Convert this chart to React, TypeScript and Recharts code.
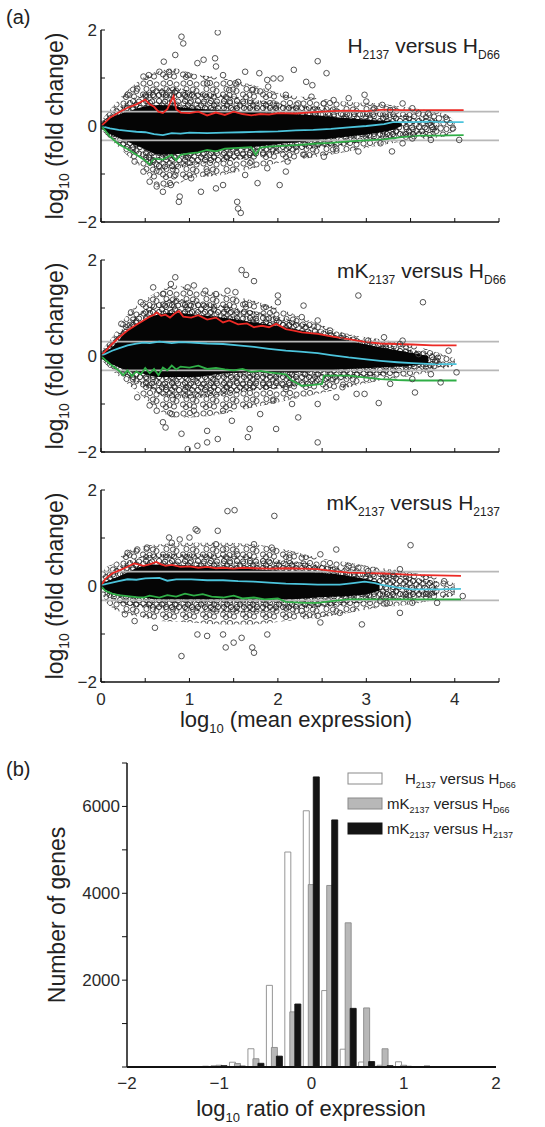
import React from 'react';
import {
  ComposedChart,
  Area,
  Line,
  Scatter,
  XAxis,
  YAxis,
  BarChart,
  Bar,
} from 'recharts';

const FONT = '"Liberation Sans", Arial, Helvetica, sans-serif';

// ---------- panel (a): MA plots ----------
const maTicksX = [0, 0.5, 1, 1.5, 2, 2.5, 3, 3.5, 4, 4.5];
const maTicksY = [-2, -1, 0, 1, 2];
const foldLimit = 0.3;
const foldLineX = [0, 4.5];

// outline of the point cloud: [mean, low, high]
const core1 = [
  [0, -0.05, 0.05], [0.1, -0.16, 0.16], [0.3, -0.33, 0.3], [0.48, -0.47, 0.4], [0.66, -0.6, 0.44],
  [1.0, -0.57, 0.37], [1.37, -0.5, 0.33], [1.73, -0.43, 0.3], [2.09, -0.36, 0.26], [2.45, -0.29, 0.22],
  [2.8, -0.22, 0.16], [3.1, -0.15, 0.12], [3.3, -0.08, 0.1], [3.4, 0, 0.04],
];
const dense1 = [
  [0, -0.06, 0.07], [0.25, -0.42, 0.45], [0.5, -0.72, 0.7], [0.66, -0.92, 0.78], [0.84, -0.9, 0.8],
  [1.02, -0.82, 0.72], [1.37, -0.75, 0.65], [1.73, -0.65, 0.55], [2.09, -0.55, 0.45], [2.45, -0.46, 0.4],
  [2.8, -0.38, 0.33], [3.16, -0.28, 0.28], [3.52, -0.2, 0.2], [3.8, -0.12, 0.15],
];
const halo1 = [
  [0, -0.08, 0.1], [0.25, -0.53, 0.65], [0.5, -0.95, 1.03], [0.66, -1.3, 1.15], [0.84, -1.23, 1.2],
  [1.02, -1.09, 1.1], [1.37, -1.02, 1.0], [1.73, -0.88, 0.85], [2.09, -0.74, 0.65], [2.45, -0.64, 0.58],
  [2.8, -0.53, 0.5], [3.16, -0.4, 0.47], [3.52, -0.29, 0.37], [3.88, -0.22, 0.26], [4.0, -0.1, 0.1],
];
const upper1 = [
  [0, 0], [0.05, 0.08], [0.1, 0.17], [0.2, 0.28], [0.3, 0.38], [0.4, 0.45], [0.45, 0.5], [0.5, 0.55],
  [0.55, 0.45], [0.6, 0.4], [0.65, 0.3], [0.7, 0.27], [0.75, 0.35], [0.8, 0.55], [0.82, 0.62], [0.85, 0.35],
  [0.9, 0.28], [1.0, 0.27], [1.1, 0.3], [1.2, 0.22], [1.3, 0.28], [1.4, 0.23], [1.5, 0.3], [1.6, 0.25],
  [1.7, 0.22], [1.8, 0.25], [1.9, 0.24], [2.0, 0.27], [2.2, 0.26], [2.4, 0.29], [2.6, 0.31], [2.8, 0.32],
  [3.0, 0.31], [3.2, 0.34], [3.4, 0.33], [3.6, 0.33], [3.8, 0.33], [4.1, 0.33],
];
const mid1 = [
  [0, 0], [0.1, -0.05], [0.2, -0.08], [0.3, -0.1], [0.4, -0.12], [0.5, -0.13], [0.6, -0.17], [0.7, -0.19],
  [0.8, -0.15], [0.9, -0.16], [1.0, -0.14], [1.2, -0.15], [1.4, -0.14], [1.6, -0.13], [1.8, -0.12],
  [2.0, -0.11], [2.2, -0.09], [2.4, -0.08], [2.6, -0.06], [2.8, -0.03], [3.0, 0], [3.2, 0.04], [3.3, 0.08],
  [3.5, 0.08], [3.7, 0.09], [3.9, 0.08], [4.1, 0.08],
];
const lower1 = [
  [0, 0], [0.05, -0.1], [0.1, -0.22], [0.2, -0.38], [0.3, -0.48], [0.4, -0.6], [0.5, -0.72], [0.55, -0.8],
  [0.6, -0.68], [0.7, -0.7], [0.8, -0.6], [0.85, -0.72], [0.9, -0.6], [1.0, -0.57], [1.1, -0.55], [1.2, -0.5],
  [1.3, -0.53], [1.4, -0.47], [1.5, -0.46], [1.6, -0.45], [1.7, -0.44], [1.75, -0.6], [1.8, -0.45],
  [1.9, -0.43], [2.0, -0.42], [2.2, -0.4], [2.4, -0.37], [2.6, -0.35], [2.8, -0.32], [3.0, -0.3],
  [3.2, -0.28], [3.4, -0.23], [3.6, -0.2], [3.8, -0.2], [4.1, -0.19],
];
const outliers1 = [
  [0.91, 1.86], [0.93, 1.72], [1.32, 1.95], [0.71, 1.34], [0.84, 1.48], [1.09, 1.31], [1.16, 1.38],
  [1.29, 1.41], [1.3, 1.24], [1.38, 1.06], [1.52, 0.89], [1.63, 1.13], [1.79, 1.1], [1.88, 0.96],
  [1.95, 0.99], [2.03, 0.99], [2.18, 1.17], [2.45, 1.35], [2.55, 1.1], [2.32, 0.92], [2.39, 0.85],
  [2.09, 0.65], [2.38, 0.61], [2.8, 0.58], [2.98, 0.65], [3.0, 0.51], [3.18, 0.44], [3.41, 0.47],
  [3.7, 0.26], [3.82, 0.16], [3.91, 0.13], [3.98, -0.05], [4.05, -0.29], [3.29, -0.53], [3.41, -0.36],
  [3.73, -0.29], [2.91, -0.53], [2.52, -0.64], [2.11, -0.74], [2.02, -1.23], [1.77, -1.19], [1.63, -1.02],
  [1.54, -1.58], [1.55, -1.72], [1.58, -1.81], [1.38, -1.23], [1.3, -1.3], [1.13, -1.37], [0.88, -1.58],
  [0.89, -1.47], [0.7, -1.37], [0.63, -1.26], [0.55, -1.16], [0.79, -1.23], [1.02, -1.09], [0.48, -0.95],
  [0.38, -0.74], [0.48, 1.03], [0.54, 1.06], [0.41, 0.78], [0.3, 0.65], [0.66, 1.13], [0.77, 1.13],
  [0.98, 1.06], [1.55, 0.92], [1.71, 0.75], [1.8, 0.72], [1.89, 0.82], [1.2, 0.89], [1.45, 0.75],
  [1.95, 0.47], [2.23, 0.47], [2.63, 0.54], [2.52, 0.47], [3.09, 0.37], [3.27, 0.33], [3.52, 0.37],
  [3.59, 0.26], [3.73, 0.02], [3.84, -0.05], [3.52, -0.26], [3.16, -0.36], [2.66, -0.47], [2.3, -0.6],
  [1.88, -0.88], [1.7, -0.74], [2.09, -0.95], [1.2, -0.95], [0.84, -1.02], [0.66, -0.95], [0.59, -0.74],
];

const core2 = [
  [0, -0.05, 0.05], [0.125, -0.17, 0.18], [0.3, -0.3, 0.53], [0.48, -0.37, 0.74], [0.66, -0.44, 0.87],
  [0.84, -0.44, 0.9], [1.02, -0.44, 0.87], [1.37, -0.37, 0.8], [1.73, -0.34, 0.7], [2.09, -0.34, 0.6],
  [2.45, -0.31, 0.46], [2.8, -0.27, 0.32], [3.16, -0.24, 0.18], [3.52, -0.2, 0.06], [3.7, -0.16, 0.0],
];
const dense2 = [
  [0, -0.07, 0.08], [0.125, -0.24, 0.3], [0.3, -0.45, 0.7], [0.48, -0.62, 0.95], [0.66, -0.8, 1.12],
  [0.84, -0.88, 1.2], [1.02, -0.88, 1.15], [1.37, -0.82, 1.05], [1.73, -0.72, 0.93], [2.09, -0.66, 0.78],
  [2.45, -0.58, 0.58], [2.8, -0.48, 0.4], [3.16, -0.4, 0.26], [3.52, -0.32, 0.13], [3.85, -0.24, 0.02],
];
const halo2 = [
  [0, -0.08, 0.1], [0.125, -0.3, 0.39], [0.3, -0.58, 0.87], [0.48, -0.86, 1.15], [0.66, -1.14, 1.36],
  [0.84, -1.28, 1.47], [1.02, -1.28, 1.4], [1.37, -1.21, 1.29], [1.73, -1.07, 1.15], [2.09, -0.93, 0.94],
  [2.45, -0.79, 0.67], [2.8, -0.65, 0.46], [3.16, -0.51, 0.35], [3.52, -0.41, 0.22], [3.8, -0.3, 0.08],
  [4.0, -0.2, -0.05],
];
const upper2 = [
  [0, 0], [0.05, 0.1], [0.125, 0.25], [0.2, 0.38], [0.3, 0.53], [0.4, 0.65], [0.48, 0.74], [0.55, 0.82],
  [0.6, 0.86], [0.63, 0.91], [0.68, 0.84], [0.73, 0.86], [0.78, 0.8], [0.83, 0.88], [0.88, 0.94],
  [0.93, 0.82], [1.02, 0.8], [1.1, 0.85], [1.2, 0.76], [1.3, 0.8], [1.38, 0.7], [1.45, 0.74], [1.55, 0.66],
  [1.65, 0.68], [1.73, 0.6], [1.82, 0.63], [1.9, 0.6], [1.98, 0.67], [2.09, 0.56], [2.18, 0.53],
  [2.27, 0.49], [2.45, 0.46], [2.6, 0.41], [2.8, 0.35], [3.0, 0.29], [3.16, 0.26], [3.35, 0.25],
  [3.52, 0.24], [3.75, 0.22], [4.02, 0.22],
];
const mid2 = [
  [0, 0], [0.125, 0.11], [0.2, 0.16], [0.3, 0.22], [0.4, 0.26], [0.48, 0.28], [0.55, 0.27], [0.66, 0.3],
  [0.8, 0.27], [0.9, 0.29], [1.02, 0.28], [1.2, 0.26], [1.38, 0.25], [1.55, 0.22], [1.73, 0.19],
  [1.9, 0.15], [2.09, 0.11], [2.25, 0.09], [2.45, 0.06], [2.6, 0.02], [2.8, -0.03], [3.0, -0.07],
  [3.16, -0.1], [3.35, -0.13], [3.52, -0.15], [3.75, -0.17], [4.02, -0.17],
];
const lower2 = [
  [0, 0], [0.06, -0.1], [0.125, -0.2], [0.2, -0.3], [0.25, -0.4], [0.3, -0.3], [0.35, -0.42], [0.4, -0.32],
  [0.45, -0.38], [0.5, -0.25], [0.55, -0.36], [0.6, -0.27], [0.65, -0.4], [0.7, -0.24], [0.75, -0.3],
  [0.8, -0.2], [0.85, -0.28], [0.9, -0.22], [1.0, -0.24], [1.1, -0.2], [1.2, -0.27], [1.3, -0.25],
  [1.4, -0.28], [1.5, -0.3], [1.6, -0.27], [1.7, -0.33], [1.8, -0.31], [1.9, -0.34], [2.0, -0.36],
  [2.09, -0.38], [2.15, -0.5], [2.27, -0.62], [2.4, -0.6], [2.5, -0.58], [2.52, -0.41], [2.7, -0.41],
  [2.8, -0.41], [3.0, -0.45], [3.16, -0.48], [3.35, -0.5], [3.52, -0.51], [4.02, -0.51],
];
const outliers2 = [
  [1.59, 1.79], [1.64, 1.69], [1.73, 1.56], [0.84, 1.64], [0.79, 1.5], [0.59, 1.43], [1.05, 1.47],
  [1.18, 1.36], [1.43, 1.36], [1.52, 1.33], [2.0, 1.26], [2.0, 1.12], [2.29, 1.05], [2.91, 1.26],
  [3.64, 1.12], [2.45, 0.74], [2.45, 0.6], [2.59, 0.53], [3.2, 0.39], [3.41, 0.32], [3.93, 0.11],
  [4.02, -0.34], [3.84, -0.55], [3.55, -0.76], [3.14, -0.98], [2.98, -0.79], [2.89, -0.79], [2.66, -0.86],
  [2.45, -1.8], [2.16, -1.0], [2.23, -1.28], [1.98, -1.52], [1.68, -1.52], [1.66, -1.69], [1.48, -1.35],
  [1.32, -1.73], [1.2, -1.56], [1.2, -1.8], [1.09, -1.87], [0.98, -1.94], [0.91, -1.62], [0.7, -1.38],
  [0.73, -1.49], [0.8, -1.21], [0.55, -1.03], [0.41, -0.86], [0.63, -1.14], [1.05, -1.14], [1.38, -1.14],
  [1.8, -1.21], [1.95, -0.93], [2.45, -1.0], [2.09, -0.69], [2.73, -0.65], [3.27, -0.58], [3.52, -0.48],
  [3.73, -0.38], [3.8, -0.1], [3.59, 0.04], [3.38, 0.25], [3.02, 0.32], [2.73, 0.42], [2.27, 0.81],
  [1.95, 0.94], [1.84, 1.01], [1.63, 1.08], [1.3, 1.29], [0.98, 1.43], [0.7, 1.29], [0.45, 1.12],
  [0.34, 0.91], [0.23, 0.67],
];

const core3 = [
  [0, -0.04, 0.05], [0.125, -0.14, 0.14], [0.3, -0.21, 0.28], [0.48, -0.24, 0.42], [0.66, -0.28, 0.45],
  [1.02, -0.28, 0.42], [1.37, -0.28, 0.38], [1.73, -0.28, 0.35], [2.09, -0.28, 0.31], [2.45, -0.24, 0.28],
  [2.8, -0.21, 0.21], [3.0, -0.17, 0.14], [3.15, -0.1, 0.08],
];
const dense3 = [
  [0, -0.06, 0.07], [0.125, -0.28, 0.3], [0.3, -0.4, 0.5], [0.48, -0.45, 0.62], [0.66, -0.5, 0.66],
  [1.02, -0.52, 0.66], [1.37, -0.54, 0.64], [1.73, -0.54, 0.6], [2.09, -0.5, 0.53], [2.45, -0.45, 0.45],
  [2.8, -0.38, 0.36], [3.16, -0.32, 0.27], [3.52, -0.26, 0.18], [3.8, -0.2, 0.1],
];
const halo3 = [
  [0, -0.08, 0.1], [0.05, -0.31, 0.38], [0.125, -0.45, 0.45], [0.3, -0.59, 0.73], [0.48, -0.66, 0.83],
  [0.66, -0.73, 0.87], [1.02, -0.76, 0.9], [1.37, -0.8, 0.9], [1.73, -0.8, 0.87], [2.09, -0.73, 0.76],
  [2.45, -0.66, 0.59], [2.8, -0.56, 0.49], [3.16, -0.45, 0.38], [3.52, -0.38, 0.28], [3.8, -0.28, 0.17],
  [4.0, -0.2, 0.05],
];
const upper3 = [
  [0, 0], [0.05, 0.15], [0.125, 0.26], [0.2, 0.32], [0.3, 0.4], [0.375, 0.47], [0.42, 0.45], [0.48, 0.42],
  [0.55, 0.45], [0.625, 0.5], [0.68, 0.45], [0.73, 0.42], [0.8, 0.44], [0.9, 0.4], [1.0, 0.41], [1.1, 0.38],
  [1.2, 0.4], [1.3, 0.37], [1.38, 0.38], [1.5, 0.36], [1.6, 0.38], [1.73, 0.37], [1.9, 0.36], [2.09, 0.37],
  [2.3, 0.36], [2.45, 0.35], [2.63, 0.31], [2.8, 0.28], [3.0, 0.27], [3.2, 0.26], [3.52, 0.23], [3.8, 0.22],
  [4.07, 0.21],
];
const mid3 = [
  [0, 0], [0.05, 0.04], [0.125, 0.07], [0.2, 0.1], [0.3, 0.14], [0.4, 0.13], [0.5, 0.16], [0.66, 0.17],
  [0.75, 0.11], [0.85, 0.14], [1.02, 0.14], [1.2, 0.12], [1.38, 0.12], [1.55, 0.1], [1.73, 0.09],
  [1.9, 0.07], [2.09, 0.05], [2.3, 0.04], [2.45, 0.03], [2.7, 0.03], [2.85, 0.06], [2.98, 0.09],
  [3.1, 0.06], [3.16, 0.03], [3.34, -0.03], [3.52, -0.07], [3.8, -0.07], [4.07, -0.06],
];
const lower3 = [
  [0, 0], [0.05, -0.1], [0.125, -0.16], [0.2, -0.19], [0.3, -0.21], [0.4, -0.23], [0.48, -0.24],
  [0.55, -0.2], [0.66, -0.24], [0.75, -0.19], [0.85, -0.22], [0.95, -0.16], [1.05, -0.2], [1.15, -0.17],
  [1.25, -0.22], [1.38, -0.24], [1.5, -0.2], [1.6, -0.26], [1.73, -0.24], [1.85, -0.28], [2.0, -0.26],
  [2.09, -0.33], [2.3, -0.35], [2.45, -0.35], [2.63, -0.31], [2.8, -0.28], [3.2, -0.28], [3.6, -0.28],
  [4.07, -0.28],
];
const outliers3 = [
  [1.43, 1.56], [1.51, 1.58], [1.96, 1.46], [1.32, 1.15], [1.09, 1.15], [1.0, 1.01], [0.89, 0.97],
  [0.77, 1.01], [0.8, 0.9], [1.38, 0.76], [1.3, 0.87], [1.73, 0.87], [1.93, 0.8], [2.13, 0.59],
  [2.48, 0.66], [2.66, 0.76], [3.5, 0.85], [2.8, 0.42], [2.91, 0.38], [3.38, 0.35], [3.88, 0.1],
  [4.09, -0.21], [3.8, -0.35], [3.52, -0.35], [3.38, -0.56], [3.23, -0.35], [2.95, -0.8], [2.7, -0.56],
  [2.48, -0.76], [2.45, -0.62], [1.88, -1.01], [1.73, -1.39], [1.71, -1.28], [1.59, -1.08], [1.5, -1.18],
  [1.41, -1.28], [1.38, -1.01], [1.2, -1.04], [1.09, -1.01], [0.91, -1.46], [0.61, -0.87], [0.38, -0.73],
  [0.27, -0.59], [0.3, 0.69], [0.41, 0.76], [0.52, 0.8], [1.07, 1.18], [1.54, 0.66], [2.27, 0.59],
  [2.09, -0.45], [2.27, -0.52], [3.16, -0.31], [3.7, -0.17], [3.02, 0.31], [3.3, 0.21],
];

const panelTitles = [
  ['H', '2137', ' versus H', 'D66'],
  ['mK', '2137', ' versus H', 'D66'],
  ['mK', '2137', ' versus H', '2137'],
];

// ---------- panel (b): histogram ----------
const histBins = [-1.4, -1.2, -1.0, -0.8, -0.6, -0.4, -0.2, 0, 0.2, 0.4, 0.6, 0.8, 1.0, 1.2, 1.4];
const histH2137vsHD66 = [0, 0, 30, 110, 420, 1880, 4950, 5900, 1760, 410, 115, 40, 120, 0, 0];
const histMK2137vsHD66 = [0, 0, 40, 80, 190, 450, 1270, 4200, 4180, 3320, 1360, 420, 40, 0, 0];
const histMK2137vsH2137 = [0, 15, 30, 20, 85, 250, 1450, 6680, 5690, 1350, 125, 30, 15, 20, 8];
const histTicksX = [-2, -1, 0, 1, 2];
const histTicksY = [0, 1000, 2000, 3000, 4000, 5000, 6000, 7000];

const histRows = histBins.map((bin, i) => ({
  bin,
  w: histH2137vsHD66[i],
  g: histMK2137vsHD66[i],
  k: histMK2137vsH2137[i],
}));

const minus = (v: number) => String(v).replace('-', '\u2212');

const toBand = (rows: number[][]) => rows.map(([x, lo, hi]) => ({ x, band: [lo, hi] }));
const toPts = (rows: number[][]) => rows.map(([x, y]) => ({ x, y }));
const foldRow = (y: number) => foldLineX.map((x) => ({ x, y }));

const ring = (p: any) => (
  <circle cx={p.cx} cy={p.cy} r={2.8} fill="none" stroke="#404040" strokeWidth={0.9} />
);

const tickStyle = { fontSize: 17, fill: '#2a2a2a', fontFamily: FONT };

// hand placed rings for the textured parts of the cloud
const sparseRings = [[3.5, 3.5], [10, 3], [16.5, 4.5], [6.5, 9], [13, 9.5], [3, 14.5], [9.5, 15], [16.5, 11], [14, 16.5], [6, 17]];
const denseRings = [[3, 3], [9, 3.5], [6, 7.5], [10, 10], [3, 10]];

interface MAPanelProps {
  top: number;
  core: number[][];
  dense: number[][];
  halo: number[][];
  upper: number[][];
  mid: number[][];
  lower: number[][];
  outliers: number[][];
  showX: boolean;
}

function MAPanel({ top, core, dense, halo, upper, mid, lower, outliers, showX }: MAPanelProps) {
  return (
    <div style={{ position: 'absolute', left: 0, top: top - 10 }}>
      <ComposedChart width={545} height={232} margin={{ top: 10, right: 46, bottom: 0, left: 0 }}>
        <XAxis
          type="number"
          dataKey="x"
          domain={[0, 4.5]}
          ticks={maTicksX}
          allowDataOverflow
          height={30}
          tickSize={-4}
          tickMargin={15}
          tick={tickStyle}
          tickFormatter={(v: number) => (showX && Number.isInteger(v) && v < 4.5 ? String(v) : '')}
          axisLine={{ stroke: '#111', strokeWidth: 1.5 }}
          tickLine={{ stroke: '#111' }}
        />
        <YAxis
          type="number"
          domain={[-2, 2]}
          ticks={maTicksY}
          allowDataOverflow
          width={101}
          tickSize={-4}
          tickMargin={8}
          tick={tickStyle}
          tickFormatter={(v: number) => (v % 2 === 0 ? minus(v) : '')}
          axisLine={{ stroke: '#111', strokeWidth: 1.5 }}
          tickLine={{ stroke: '#111' }}
        />
        <Area data={toBand(halo)} dataKey="band" type="monotone" stroke="none" fill="url(#haloSparse)" fillOpacity={1} isAnimationActive={false} />
        <Area data={toBand(dense)} dataKey="band" type="monotone" stroke="none" fill="url(#haloDense)" fillOpacity={1} isAnimationActive={false} />
        <Area data={toBand(core)} dataKey="band" type="monotone" stroke="none" fill="#050505" fillOpacity={1} isAnimationActive={false} />
        <Scatter data={toPts(outliers)} dataKey="y" shape={ring} isAnimationActive={false} />
        <Line data={foldRow(foldLimit)} dataKey="y" stroke="#b8b8b8" strokeWidth={1.6} dot={false} isAnimationActive={false} />
        <Line data={foldRow(-foldLimit)} dataKey="y" stroke="#b8b8b8" strokeWidth={1.6} dot={false} isAnimationActive={false} />
        <Line data={toPts(upper)} dataKey="y" stroke="#ec2a25" strokeWidth={1.8} dot={false} isAnimationActive={false} />
        <Line data={toPts(mid)} dataKey="y" stroke="#4cc4dc" strokeWidth={1.8} dot={false} isAnimationActive={false} />
        <Line data={toPts(lower)} dataKey="y" stroke="#2fae46" strokeWidth={1.8} dot={false} isAnimationActive={false} />
      </ComposedChart>
    </div>
  );
}

function SubText({ parts, x, y, size, sub, anchor }: { parts: string[]; x: number; y: number; size: number; sub: number; anchor: 'start' | 'end' }) {
  const shift = Math.round(size * 0.28);
  return (
    <text x={x} y={y} fontSize={size} textAnchor={anchor} fill="#222" fontFamily={FONT}>
      {parts[0]}
      <tspan dy={shift} fontSize={sub}>{parts[1]}</tspan>
      <tspan dy={-shift}>{parts[2]}</tspan>
      <tspan dy={shift} fontSize={sub}>{parts[3]}</tspan>
    </text>
  );
}

function RotTitle({ x, y, size, pre, sub, post }: { x: number; y: number; size: number; pre: string; sub?: string; post: string }) {
  return (
    <text transform={`translate(${x},${y}) rotate(-90)`} textAnchor="middle" fontSize={size} fill="#222" fontFamily={FONT}>
      {pre}
      {sub && <tspan dy={6} fontSize={size * 0.6}>{sub}</tspan>}
      <tspan dy={sub ? -6 : 0}>{post}</tspan>
    </text>
  );
}

const legendRows = [
  { fill: '#ffffff', stroke: '#8a8a8a', parts: panelTitles[0], y: 773, tx: 405 },
  { fill: '#b8b8b8', stroke: '#8a8a8a', parts: panelTitles[1], y: 798, tx: 387 },
  { fill: '#141414', stroke: '#141414', parts: panelTitles[2], y: 823, tx: 387 },
];

export default function App() {
  const panels = [
    { top: 30, core: core1, dense: dense1, halo: halo1, upper: upper1, mid: mid1, lower: lower1, outliers: outliers1 },
    { top: 260, core: core2, dense: dense2, halo: halo2, upper: upper2, mid: mid2, lower: lower2, outliers: outliers2 },
    { top: 490, core: core3, dense: dense3, halo: halo3, upper: upper3, mid: mid3, lower: lower3, outliers: outliers3 },
  ];
  const titleBaselines = [53, 278, 510];
  const titleRight = [500, 506, 500];

  return (
    <div style={{ position: 'relative', width: 545, height: 1127, background: '#fff', fontFamily: FONT }}>
      <style>{'body{margin:0;background:#fff}'}</style>
      <svg width={0} height={0} style={{ position: 'absolute' }}>
        <defs>
          <pattern id="haloSparse" width={20} height={20} patternUnits="userSpaceOnUse">
            {sparseRings.map(([cx, cy], i) => (
              <circle key={i} cx={cx} cy={cy} r={2.6} fill="none" stroke="#383838" strokeWidth={0.9} />
            ))}
          </pattern>
          <pattern id="haloDense" width={13} height={13} patternUnits="userSpaceOnUse">
            {denseRings.map(([cx, cy], i) => (
              <circle key={i} cx={cx} cy={cy} r={2.6} fill="none" stroke="#222" strokeWidth={0.9} />
            ))}
          </pattern>
        </defs>
      </svg>

      {panels.map((p, i) => (
        <MAPanel key={i} {...p} showX={i === 2} />
      ))}

      <div style={{ position: 'absolute', left: 0, top: 740 }}>
        <BarChart
          width={545}
          height={387}
          data={histRows}
          margin={{ top: 23, right: 49, bottom: 0, left: 0 }}
          barSize={6}
          barGap={-1}
        >
          <XAxis
            type="number"
            dataKey="bin"
            domain={[-2, 2]}
            ticks={histTicksX}
            allowDataOverflow
            height={60}
            tickLine={false}
            tickSize={4}
            tickMargin={6}
            tick={tickStyle}
            tickFormatter={minus}
            axisLine={{ stroke: '#111', strokeWidth: 1.8 }}
          />
          <YAxis
            type="number"
            domain={[0, 7000]}
            ticks={histTicksY}
            width={127}
            tickSize={5}
            tickMargin={2}
            tick={tickStyle}
            tickFormatter={(v: number) => (v > 0 && v % 2000 === 0 ? String(v) : '')}
            axisLine={{ stroke: '#111', strokeWidth: 1.5 }}
            tickLine={{ stroke: '#111' }}
          />
          <Bar dataKey="w" fill="#ffffff" stroke="#8a8a8a" strokeWidth={0.9} isAnimationActive={false} />
          <Bar dataKey="g" fill="#b8b8b8" stroke="#8a8a8a" strokeWidth={0.9} isAnimationActive={false} />
          <Bar dataKey="k" fill="#141414" stroke="#141414" strokeWidth={0.9} isAnimationActive={false} />
        </BarChart>
      </div>

      <svg width={545} height={1127} style={{ position: 'absolute', left: 0, top: 0, pointerEvents: 'none' }}>
        <text x={6} y={24} fontSize={20} fill="#222" fontFamily={FONT}>(a)</text>
        {panelTitles.map((t, i) => (
          <SubText key={i} parts={t} x={titleRight[i]} y={titleBaselines[i]} size={21} sub={12} anchor="end" />
        ))}
        {[126, 356, 586].map((cy, i) => (
          <RotTitle key={i} x={63} y={cy} size={23} pre="log" sub="10" post=" (fold change)" />
        ))}
        <text x={296} y={727} textAnchor="middle" fontSize={22} fill="#222" fontFamily={FONT}>
          log<tspan dy={6} fontSize={13}>10</tspan><tspan dy={-6}> (mean expression)</tspan>
        </text>

        <text x={6} y={776} fontSize={20} fill="#222" fontFamily={FONT}>(b)</text>
        <RotTitle x={65} y={915} size={23} pre="Number of genes" post="" />
        <text x={311} y={1116} textAnchor="middle" fontSize={22} fill="#222" fontFamily={FONT}>
          log<tspan dy={6} fontSize={13}>10</tspan><tspan dy={-6}> ratio of expression</tspan>
        </text>
        {legendRows.map((r, i) => (
          <g key={i}>
            <rect x={348} y={r.y} width={34} height={11} fill={r.fill} stroke={r.stroke} strokeWidth={1} />
            <SubText parts={r.parts} x={r.tx} y={r.y + 11} size={15} sub={9} anchor="start" />
          </g>
        ))}
      </svg>
    </div>
  );
}
